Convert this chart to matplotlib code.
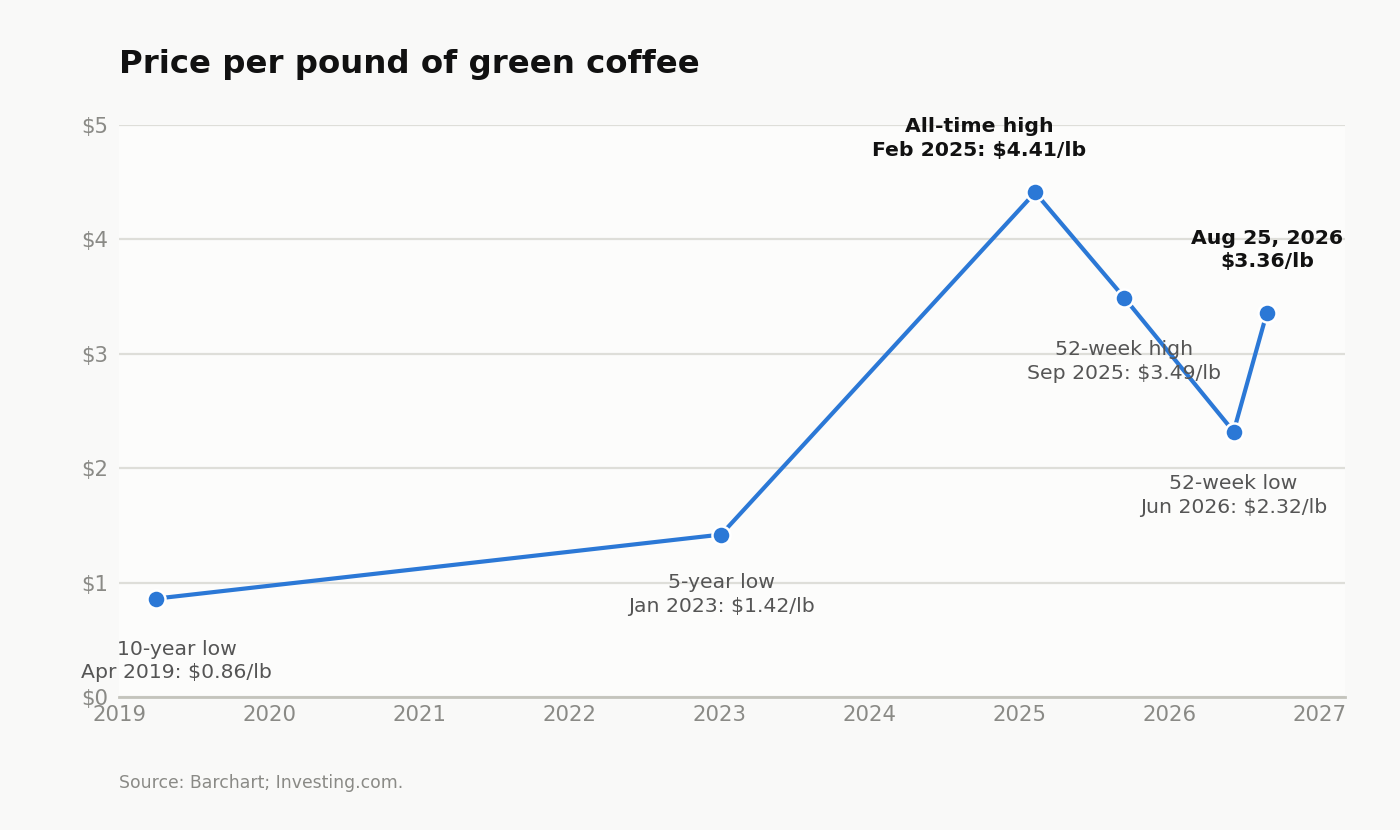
import matplotlib
matplotlib.use('Agg')
import matplotlib.pyplot as plt
from datetime import datetime

# 数据
dates = [datetime(2019, 4, 1), datetime(2023, 1, 5), datetime(2025, 2, 7),
         datetime(2025, 9, 12), datetime(2026, 6, 5), datetime(2026, 8, 25)]
prices = [0.86, 1.42, 4.41, 3.49, 2.32, 3.36]
labels = ['10-year low\nApr 2019: $0.86/lb',
          '5-year low\nJan 2023: $1.42/lb',
          'All-time high\nFeb 2025: $4.41/lb',
          '52-week high\nSep 2025: $3.49/lb',
          '52-week low\nJun 2026: $2.32/lb',
          'Aug 25, 2026\n$3.36/lb']
label_bold = [False, False, True, False, False, True]
label_offset = [(15, -45), (0, -43), (-40, 39), (0, -46), (0, -46), (0, 45)]
y_ticks = [0, 1, 2, 3, 4, 5]
years = list(range(2019, 2028))

blue = '#2b78d6'

fig = plt.figure(figsize=(14, 8.3), dpi=100, facecolor='#f9f9f8')
ax = fig.add_axes([119/1400, 1 - 697/830, (1345-119)/1400, (697-125)/830])
ax.set_facecolor('#fcfcfb')

ax.plot(dates, prices, color=blue, linewidth=3, zorder=3,
        marker='o', markersize=13, markerfacecolor=blue,
        markeredgecolor='white', markeredgewidth=1.8)

# 标注
for d, p, txt, b, off in zip(dates, prices, labels, label_bold, label_offset):
    ax.annotate(txt, (d, p), xytext=off, textcoords='offset points',
                ha='center', va='center', fontsize=14.7,
                fontweight='bold' if b else 'normal',
                color='#111111' if b else '#555555',
                linespacing=1.3, zorder=4)

ax.set_ylim(0, 5)
ax.set_xlim(datetime(2019, 1, 1), datetime(2027, 3, 3))
ax.set_yticks(y_ticks)
ax.set_yticklabels(['$' + str(v) for v in y_ticks])
ax.set_xticks([datetime(y, 1, 1) for y in years])
ax.set_xticklabels([str(y) for y in years])
ax.tick_params(axis='both', length=0, labelsize=15.3, labelcolor='#8a8a86')
ax.tick_params(axis='x', pad=6)
ax.tick_params(axis='y', pad=8)

ax.grid(axis='y', color='#deded9', linewidth=1.6, zorder=0)
ax.set_axisbelow(True)
for s in ['top', 'right', 'left']:
    ax.spines[s].set_visible(False)
ax.spines['bottom'].set_color('#c4c4bc')
ax.spines['bottom'].set_linewidth(2)
ax.spines['bottom'].set_zorder(2)

fig.text(119/1400, 1 - 65/830, 'Price per pound of green coffee',
         fontsize=23.3, fontweight='bold', color='#111111', va='center', ha='left')
fig.text(119/1400, 1 - 783/830, 'Source: Barchart; Investing.com.',
         fontsize=12.4, color='#8a8a86', va='center', ha='left')

fig.savefig('out.png', dpi=100, facecolor=fig.get_facecolor())
